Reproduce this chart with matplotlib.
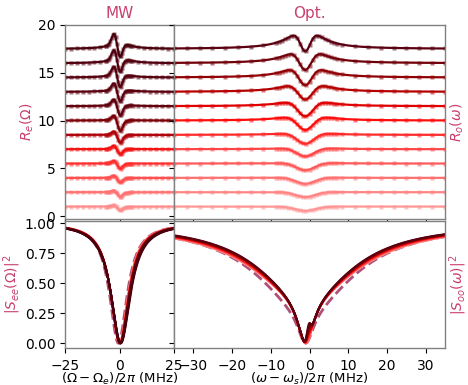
import numpy as np
import matplotlib.pyplot as plt

# trace offsets in the top panels (one per pump power, low -> high)
offsets = [1.0, 2.5, 4.0, 5.5, 7.0, 8.5, 10.0, 11.5, 13.0, 14.5, 16.0, 17.5]

mw_colors = ['#ff8c8c', '#ff7272', '#ff5050', '#ff2e2e', '#f21212', '#b00008',
             '#7a0008', '#62000e', '#5a000f', '#55000f', '#50000e', '#4a000d']
opt_colors = ['#ff9696', '#ff8484', '#ff7070', '#ff5a5a', '#ff4545', '#ff2a2a',
              '#ff0c0c', '#e00000', '#b40000', '#900004', '#72000a', '#5a0010']

# MW reflection: dispersive part, broad bump, narrow dip
mw_disp = [0.18, 0.22, 0.25, 0.30, 0.35, 0.38, 0.50, 0.60, 0.70, 0.85, 0.95, 1.05]
mw_broad = [0.0, 0.02, 0.04, 0.06, 0.08, 0.10, 0.20, 0.30, 0.40, 0.50, 0.65, 0.80]
mw_dip = [0.22, 0.28, 0.28, 0.30, 0.25, 0.55, 0.80, 0.70, 0.70, 0.65, 0.60, 0.60]

# optical reflection: broad hump, central hole depth and width
opt_hump = [0.0, 0.05, 0.10, 0.15, 0.25, 0.35, 0.80, 0.90, 1.30, 1.50, 1.70, 2.10]
opt_hole = [0.45, 0.55, 0.72, 0.85, 1.00, 1.28, 1.78, 1.95, 2.10, 2.30, 2.40, 2.35]
opt_sigma = [2.6, 2.5, 2.5, 2.4, 2.3, 2.2, 2.1, 2.0, 1.9, 1.7, 1.6, 1.3]

# |S|^2 panels
see_center = [0.0, 0.05, 0.1, 0.15, 0.2, 0.25, 0.3, 0.35, 0.4, 0.45, 0.5, 0.6]
see_kappa = [9.6, 9.7, 9.8, 9.9, 10.0, 10.1, 10.2, 10.3, 10.4, 10.5, 10.6, 10.8]
soo_broad = [17.2, 17.0, 16.8, 16.6, 16.4, 16.2, 16.0, 15.8, 15.6, 15.4, 15.2, 15.0]
soo_bump = [0.0, 0.0, 0.0, 0.01, 0.02, 0.03, 0.04, 0.05, 0.06, 0.08, 0.10, 0.12]
see_ref = (-0.5, 9.8)   # dashed: center, linewidth
soo_ref = (15.5, 0.30)  # dashed: broad width, narrow weight

label_color = '#c8406e'
dash_color = '#b0507a'


def lor(x, c, g):
    return 1.0 / (1.0 + ((x - c) / g) ** 2)


def gderiv(x, c, w):
    u = (x - c) / w
    return -u * np.exp(-(u ** 2 - 1) / 2)


def mw_refl(x, i):
    return (offsets[i] + mw_broad[i] * lor(x, 0, 5) + mw_disp[i] * gderiv(x, -1.2, 1.4)
            - mw_dip[i] * lor(x, 0.5, 1.5))


def opt_refl(x, i):
    r = x + 1.1
    return offsets[i] + opt_hump[i] * lor(r, 0, 5) - opt_hole[i] * np.exp(-r ** 2 / (2 * opt_sigma[i] ** 2))


def soo(x, g2, a=0.4, bump=0.0):
    r = x + 1.0
    return 1 - a * lor(r, 0, 2.5) - (1 - a) * lor(r, 0, g2) + bump * np.exp(-(r - 0.8) ** 2 / 0.5)


fig = plt.figure(figsize=(4.68, 3.85), dpi=100)
ax_mw = fig.add_axes([0.1389, 0.4312, 0.2329, 0.5039])
ax_opt = fig.add_axes([0.3718, 0.4312, 0.5791, 0.5039])
ax_see = fig.add_axes([0.1389, 0.0961, 0.2329, 0.3299])
ax_soo = fig.add_axes([0.3718, 0.0961, 0.5791, 0.3299])

x_mw = np.linspace(-25, 25, 800)
x_opt = np.linspace(-35, 35, 1000)
xd_mw = np.concatenate([np.arange(-25, -6, 2.7), np.arange(-6, 6, 0.6), np.arange(6, 25.1, 2.7)])
xd_opt = np.concatenate([np.arange(-35, -8, 3.3), np.arange(-8, 8, 0.8), np.arange(8.5, 35.1, 3.3)])

for i in range(len(offsets)):
    ax_mw.plot(xd_mw, mw_refl(xd_mw, i), 's', ms=2.8, color=mw_colors[i], alpha=0.55, mec='none')
    ax_mw.plot(x_mw, mw_refl(x_mw, i), color=mw_colors[i], lw=1.6)
    ax_opt.plot(xd_opt, opt_refl(xd_opt, i), 's', ms=2.8, color=opt_colors[i], alpha=0.55, mec='none')
    ax_opt.plot(x_opt, opt_refl(x_opt, i), color=opt_colors[i], lw=1.6)

ax_see.plot(x_mw, 1 - lor(x_mw, see_ref[0], see_ref[1] / 2), '--', color=dash_color, lw=2)
ax_soo.plot(x_opt, soo(x_opt, soo_ref[0], a=soo_ref[1]), '--', color=dash_color, lw=2)
for i in range(len(offsets)):
    ax_see.plot(x_mw, 1 - lor(x_mw, see_center[i], see_kappa[i] / 2), color=mw_colors[i], lw=1.5)
    ax_soo.plot(x_opt, soo(x_opt, soo_broad[i], bump=soo_bump[i]), color=opt_colors[i], lw=1.5)

for ax in [ax_mw, ax_see]:
    ax.set_xlim(-25, 25)
    ax.set_xticks([-25, 0, 25])
for ax in [ax_opt, ax_soo]:
    ax.set_xlim(-35, 35)
    ax.set_xticks([-30, -20, -10, 0, 10, 20, 30])
for ax in [ax_mw, ax_opt]:
    ax.set_ylim(-0.3, 20)
    ax.set_yticks([0, 5, 10, 15, 20])
    ax.tick_params(labelbottom=False)
for ax in [ax_see, ax_soo]:
    ax.set_ylim(-0.04, 1.02)
    ax.set_yticks([0, 0.25, 0.5, 0.75, 1.0])
    ax.tick_params(axis='x', pad=4.5)
for ax in [ax_opt, ax_soo]:
    ax.tick_params(labelleft=False)
for ax in [ax_mw, ax_opt, ax_see, ax_soo]:
    for sp in ax.spines.values():
        sp.set_color('0.5')
        sp.set_linewidth(1.0)
    ax.tick_params(labelsize=10)

ax_mw.set_title('MW', color=label_color, fontsize=11, pad=5)
ax_opt.set_title('Opt.', color=label_color, fontsize=11, pad=5)
ax_mw.set_ylabel(r'$R_e(\Omega)$', color=label_color, fontsize=10)
ax_see.set_ylabel(r'$|S_{ee}(\Omega)|^2$', color=label_color, fontsize=10)
ax_mw.yaxis.set_label_coords(-0.27, 0.5)
ax_see.yaxis.set_label_coords(-0.385, 0.5)
ax_opt.yaxis.set_label_position('right')
ax_soo.yaxis.set_label_position('right')
ax_opt.set_ylabel(r'$R_o(\omega)$', color=label_color, fontsize=10)
ax_soo.set_ylabel(r'$|S_{oo}(\omega)|^2$', color=label_color, fontsize=10)
ax_opt.yaxis.set_label_coords(1.015, 0.5)
ax_soo.yaxis.set_label_coords(1.01, 0.5)
ax_see.set_xlabel(r'$(\Omega-\Omega_e)/2\pi$ (MHz)', fontsize=9.5, labelpad=-1.5)
ax_soo.set_xlabel(r'$(\omega-\omega_s)/2\pi$ (MHz)', fontsize=9.5, labelpad=-1.5)

fig.savefig('out.png', dpi=100)
